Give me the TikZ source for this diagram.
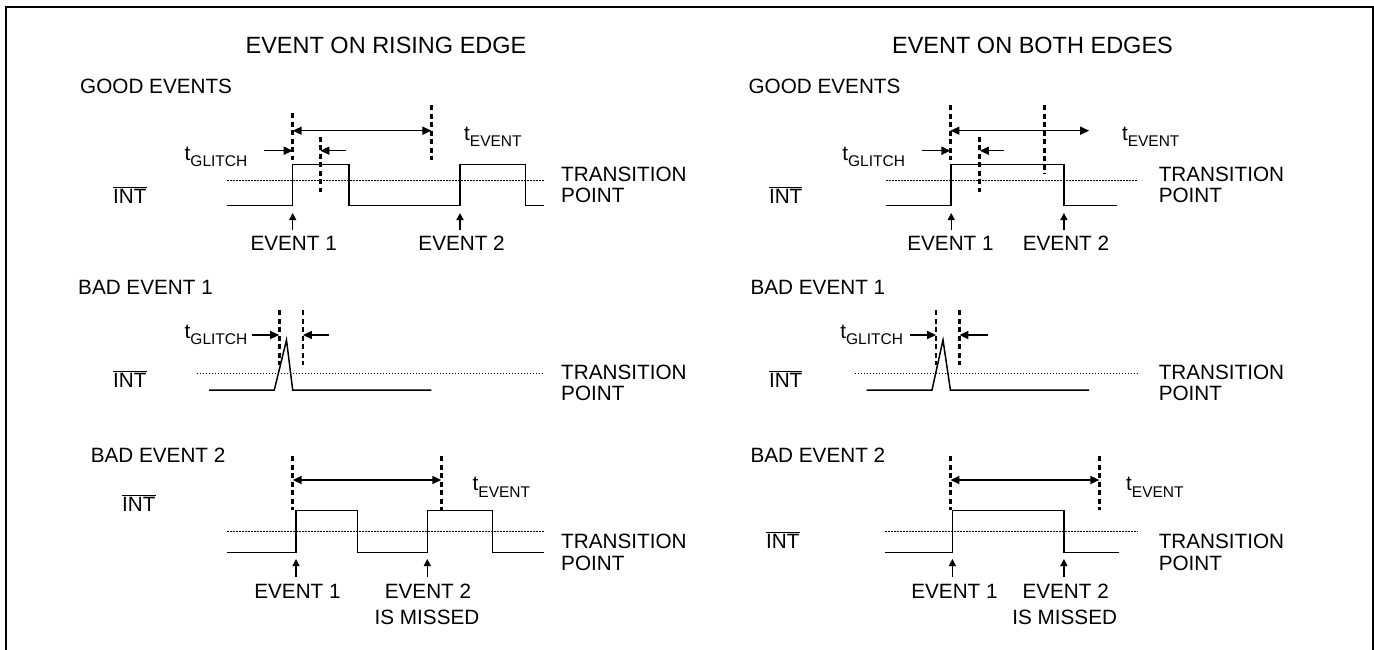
\documentclass[tikz,border=0pt]{standalone}
\usepackage{fontspec}
\setmainfont{Liberation Sans}
\usetikzlibrary{arrows.meta}
\newcommand\tsub[1]{t\raisebox{-6.5pt}{\fontsize{15.5}{15.5}\selectfont #1}}
\newcommand\intbar{$\overline{\hbox{INT}}$}
\begin{document}
\begin{tikzpicture}[x=1pt,y=-1pt,
  lbl/.style={inner sep=0pt, font=\fontsize{20.7}{24}\selectfont},
  ttl/.style={inner sep=0pt, font=\fontsize{23.5}{26}\selectfont, anchor=base},
  sig/.style={line width=1.5pt, line join=miter},
  dsh/.style={line width=2.7pt, dash pattern=on 5pt off 3.5pt},
  tp/.style={line width=0.8pt, dash pattern=on 1.5pt off 1.5pt},
  dim/.style={line width=1.5pt, {Triangle[length=9pt,width=8pt]}-{Triangle[length=9pt,width=8pt]}},
  ar/.style={line width=1.5pt, -{Triangle[length=9pt,width=8pt]}},
  evar/.style={line width=1.3pt, -{Triangle[length=7pt,width=7pt]}}]
\useasboundingbox (0,0) rectangle (1374,649);
\draw[line width=2pt] (6,650) -- (6,7) -- (1372.5,7) -- (1372.5,650);

% ================= LEFT =================
\node[ttl] (tl) at (386,53) {EVENT ON RISING EDGE};
% --- good events
\node[lbl,anchor=base west] (lg) at (80,93.5) {GOOD EVENTS};
\node[lbl,anchor=base west] (lgint) at (113,203) {\intbar};
\node[lbl,anchor=base west] (lgtr) at (561,181) {TRANSITION};
\node[lbl,anchor=base west] (lgpt) at (561,202) {POINT};
\node[lbl,anchor=base west] (lggl) at (184.5,160) {\tsub{GLITCH}};
\node[lbl,anchor=base west] (lgev) at (464,140) {\tsub{EVENT}};
\node[lbl,anchor=base] (lge1) at (293.7,250.7) {EVENT 1};
\node[lbl,anchor=base] (lge2) at (461.6,250.7) {EVENT 2};
\draw[tp] (227.3,180) -- (543.7,180);
\draw[sig] (227.3,205.7) -- (292.7,205.7) -- (292.7,164.3) -- (349,164.3) -- (349,205.7) -- (460,205.7) -- (460,164.3) -- (525.3,164.3) -- (525.3,205.7) -- (543.7,205.7);
\draw[dsh] (292.7,113) -- (292.7,160);
\draw[dsh] (320.4,136.7) -- (320.4,191.7);
\draw[dsh] (431.4,105) -- (431.4,160);
\coordinate (la1) at (292.7,130.7); \coordinate (la2) at (431.4,130.7);
\draw[dim] (la1) -- (la2);
\coordinate (lb1) at (264,150.7); \coordinate (lb2) at (292.7,150.7);
\coordinate (lb3) at (345.7,150.7); \coordinate (lb4) at (320.4,150.7);
\draw[ar] (lb1) -- (lb2);
\draw[ar] (lb3) -- (lb4);
\coordinate (lc1) at (292.7,230); \coordinate (lc2) at (292.7,213);
\coordinate (lc3) at (460,230); \coordinate (lc4) at (460,213);
\draw[evar] (lc1) -- (lc2);
\draw[evar] (lc3) -- (lc4);
% --- bad event 1
\node[lbl,anchor=base west] (lb) at (78,294) {BAD EVENT 1};
\node[lbl,anchor=base west] (lbint) at (113,387) {\intbar};
\node[lbl,anchor=base west] (lbtr) at (561,379) {TRANSITION};
\node[lbl,anchor=base west] (lbpt) at (561,400) {POINT};
\node[lbl,anchor=base west] (lbgl) at (184.5,338) {\tsub{GLITCH}};
\draw[tp] (196.7,373.3) -- (543.7,373.3);
\draw[sig] (209,390) -- (274.3,390) -- (286.5,340) -- (292.7,390) -- (431.4,390);
\draw[dsh] (279.2,310) -- (279.2,365);
\draw[dsh] (302.9,310) -- (302.9,365);
\coordinate (ld1) at (251.8,335); \coordinate (ld2) at (279.2,335);
\coordinate (ld3) at (329.4,335); \coordinate (ld4) at (302.9,335);
\draw[ar] (ld1) -- (ld2);
\draw[ar] (ld3) -- (ld4);
% --- bad event 2
\node[lbl,anchor=base west] (lx) at (90.6,462) {BAD EVENT 2};
\node[lbl,anchor=base west] (lxint) at (122,511) {\intbar};
\node[lbl,anchor=base west] (lxtr) at (561,548.3) {TRANSITION};
\node[lbl,anchor=base west] (lxpt) at (561,570) {POINT};
\node[lbl,anchor=base west] (lxev) at (472.5,490.7) {\tsub{EVENT}};
\node[lbl,anchor=base] (lxe1) at (297.5,598.3) {EVENT 1};
\node[lbl,anchor=base] (lxe2) at (428,598.3) {EVENT 2};
\node[lbl,anchor=base] (lxms) at (427,624) {IS MISSED};
\draw[tp] (227.3,531.7) -- (543.7,531.7);
\draw[sig] (227.3,552.7) -- (296,552.7) -- (296,510.5) -- (357.7,510.5) -- (357.7,552.7) -- (427.3,552.7) -- (427.3,510.5) -- (492.7,510.5) -- (492.7,552.7) -- (543.7,552.7);
\draw[dsh] (292.7,456) -- (292.7,510);
\draw[dsh] (441.3,456) -- (441.3,510);
\coordinate (le1) at (292.7,480); \coordinate (le2) at (441.3,480);
\draw[dim] (le1) -- (le2);
\coordinate (lf1) at (296,577); \coordinate (lf2) at (296,559);
\coordinate (lf3) at (427.3,577); \coordinate (lf4) at (427.3,559);
\draw[evar] (lf1) -- (lf2);
\draw[evar] (lf3) -- (lf4);

% ================= RIGHT =================
\node[ttl] (tr) at (1032.5,53) {EVENT ON BOTH EDGES};
% --- good events
\node[lbl,anchor=base west] (rg) at (748.4,93.5) {GOOD EVENTS};
\node[lbl,anchor=base west] (rgint) at (768.8,203) {\intbar};
\node[lbl,anchor=base west] (rgtr) at (1158.6,181) {TRANSITION};
\node[lbl,anchor=base west] (rgpt) at (1158.6,202) {POINT};
\node[lbl,anchor=base west] (rggl) at (842.2,160) {\tsub{GLITCH}};
\node[lbl,anchor=base west] (rgev) at (1121.8,140) {\tsub{EVENT}};
\node[lbl,anchor=base] (rge1) at (950.5,250.7) {EVENT 1};
\node[lbl,anchor=base] (rge2) at (1066,250.7) {EVENT 2};
\draw[tp] (886.3,180) -- (1138.2,180);
\draw[sig] (886.3,205.7) -- (951.2,205.7) -- (951.2,164.3) -- (1063.9,164.3) -- (1063.9,205.7) -- (1116.9,205.7);
\draw[dsh] (950.4,105) -- (950.4,160);
\draw[dsh] (979.8,136.7) -- (979.8,191.7);
\draw[dsh] (1044.3,105) -- (1044.3,173.3);
\coordinate (ra1) at (950.4,130.7); \coordinate (ra2) at (1089.2,130.7);
\draw[dim] (ra1) -- (ra2);
\coordinate (rb1) at (921.8,150.7); \coordinate (rb2) at (950.4,150.7);
\coordinate (rb3) at (1004.3,150.7); \coordinate (rb4) at (979.8,150.7);
\draw[ar] (rb1) -- (rb2);
\draw[ar] (rb3) -- (rb4);
\coordinate (rc1) at (951.2,230); \coordinate (rc2) at (951.2,213);
\coordinate (rc3) at (1063.9,230); \coordinate (rc4) at (1063.9,213);
\draw[evar] (rc1) -- (rc2);
\draw[evar] (rc3) -- (rc4);
% --- bad event 1
\node[lbl,anchor=base west] (rb) at (750.4,294) {BAD EVENT 1};
\node[lbl,anchor=base west] (rbint) at (768.8,387) {\intbar};
\node[lbl,anchor=base west] (rbtr) at (1158.6,379) {TRANSITION};
\node[lbl,anchor=base west] (rbpt) at (1158.6,400) {POINT};
\node[lbl,anchor=base west] (rbgl) at (840.2,338) {\tsub{GLITCH}};
\draw[tp] (854.5,373.3) -- (1138.2,373.3);
\draw[sig] (866.7,390) -- (932,390) -- (943,340) -- (950.4,390) -- (1089.2,390);
\draw[dsh] (936.1,310) -- (936.1,365);
\draw[dsh] (959.4,310) -- (959.4,365);
\coordinate (rd1) at (909.6,335); \coordinate (rd2) at (936.1,335);
\coordinate (rd3) at (988,335); \coordinate (rd4) at (959.4,335);
\draw[ar] (rd1) -- (rd2);
\draw[ar] (rd3) -- (rd4);
% --- bad event 2
\node[lbl,anchor=base west] (rx) at (750.4,462) {BAD EVENT 2};
\node[lbl,anchor=base west] (rxint) at (766,548.3) {\intbar};
\node[lbl,anchor=base west] (rxtr) at (1158.6,548.3) {TRANSITION};
\node[lbl,anchor=base west] (rxpt) at (1158.6,570) {POINT};
\node[lbl,anchor=base west] (rxev) at (1126,490.7) {\tsub{EVENT}};
\node[lbl,anchor=base] (rxe1) at (954.5,598.3) {EVENT 1};
\node[lbl,anchor=base] (rxe2) at (1065.7,598.3) {EVENT 2};
\node[lbl,anchor=base] (rxms) at (1064.7,624) {IS MISSED};
\draw[tp] (885.1,531.7) -- (1138.2,531.7);
\draw[sig] (885.1,552.7) -- (952.4,552.7) -- (952.4,510.5) -- (1063.9,510.5) -- (1063.9,552.7) -- (1118.6,552.7);
\draw[dsh] (950.4,456) -- (950.4,510);
\draw[dsh] (1099.4,456) -- (1099.4,510);
\coordinate (re1) at (950.4,480); \coordinate (re2) at (1099.4,480);
\draw[dim] (re1) -- (re2);
\coordinate (rf1) at (952.4,577); \coordinate (rf2) at (952.4,559);
\coordinate (rf3) at (1063.9,577); \coordinate (rf4) at (1063.9,559);
\draw[evar] (rf1) -- (rf2);
\draw[evar] (rf3) -- (rf4);
\end{tikzpicture}
\end{document}
